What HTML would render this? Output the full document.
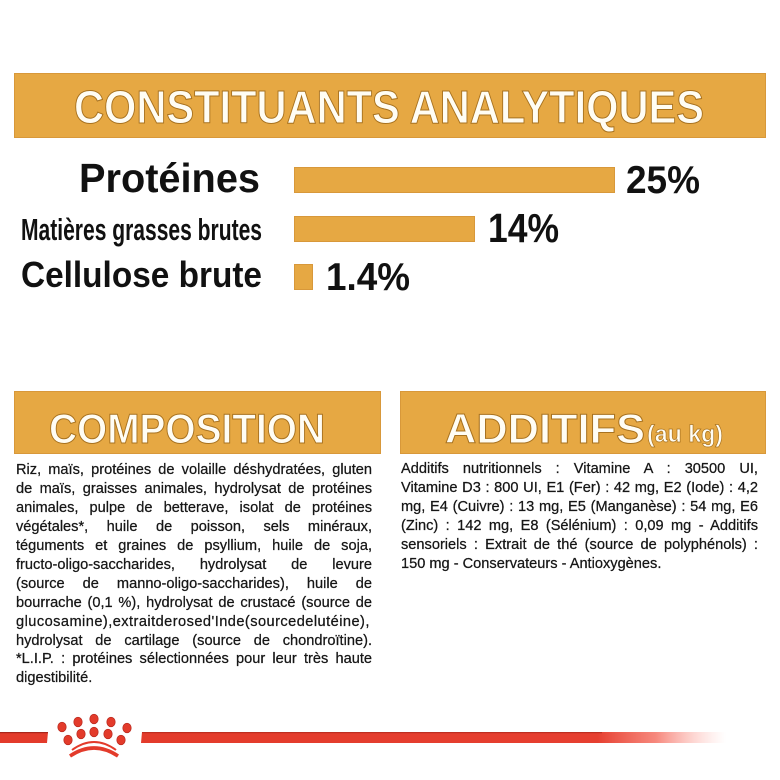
<!DOCTYPE html>
<html>
<head>
<meta charset="utf-8">
<style>
html,body{margin:0;padding:0;background:#fff;}
body{width:780px;height:780px;position:relative;overflow:hidden;font-family:"Liberation Sans",Arial,sans-serif;}
svg.bg{position:absolute;left:0;top:0;}
.para{position:absolute;font-size:14.6px;line-height:18.9px;color:#161616;-webkit-text-stroke:0.25px #161616;}
.para div{text-align:justify;text-align-last:justify;white-space:normal;}
.para div.last{text-align-last:left;}
</style>
</head>
<body>
<svg class="bg" width="780" height="780" viewBox="0 0 780 780" xmlns="http://www.w3.org/2000/svg">
  <defs>
    <linearGradient id="fade" x1="0" y1="0" x2="1" y2="0">
      <stop offset="0" stop-color="#e33b2b"/>
      <stop offset="0.78" stop-color="#e63f30"/>
      <stop offset="0.88" stop-color="#f46a5c" stop-opacity="0.8"/>
      <stop offset="1" stop-color="#ffb0a8" stop-opacity="0"/>
    </linearGradient>
  </defs>
  <!-- header bar -->
  <rect x="14.5" y="73.5" width="751" height="64" fill="#e6a843" stroke="#d8983a" stroke-width="1"/>
  <text x="74" y="123" textLength="630" lengthAdjust="spacingAndGlyphs" font-family="Liberation Sans, Arial, sans-serif" font-size="46" font-weight="bold" fill="#fffdf4" stroke="#a8721f" stroke-width="1">CONSTITUANTS ANALYTIQUES</text>

  <!-- labels -->
  <text x="79" y="192" textLength="181" lengthAdjust="spacingAndGlyphs" font-family="Liberation Sans, Arial, sans-serif" font-size="41" font-weight="bold" fill="#111">Protéines</text>
  <text x="21" y="240" textLength="241" lengthAdjust="spacingAndGlyphs" font-family="Liberation Sans, Arial, sans-serif" font-size="31" font-weight="bold" fill="#111">Matières grasses brutes</text>
  <text x="21" y="287" textLength="241" lengthAdjust="spacingAndGlyphs" font-family="Liberation Sans, Arial, sans-serif" font-size="36" font-weight="bold" fill="#111">Cellulose brute</text>

  <!-- bars -->
  <rect x="294.5" y="167.5" width="320" height="25" fill="#e6a843" stroke="#d8983a" stroke-width="1"/>
  <rect x="294.5" y="216.5" width="180" height="25" fill="#e6a843" stroke="#d8983a" stroke-width="1"/>
  <rect x="294.5" y="264.5" width="18" height="25" fill="#e6a843" stroke="#d8983a" stroke-width="1"/>

  <!-- values -->
  <text x="626" y="193" textLength="74" lengthAdjust="spacingAndGlyphs" font-family="Liberation Sans, Arial, sans-serif" font-size="39" font-weight="bold" fill="#111">25%</text>
  <text x="488" y="242" textLength="71" lengthAdjust="spacingAndGlyphs" font-family="Liberation Sans, Arial, sans-serif" font-size="41" font-weight="bold" fill="#111">14%</text>
  <text x="326" y="290" textLength="84" lengthAdjust="spacingAndGlyphs" font-family="Liberation Sans, Arial, sans-serif" font-size="39" font-weight="bold" fill="#111">1.4%</text>

  <!-- composition header -->
  <rect x="14.5" y="391.5" width="366" height="62" fill="#e6a843" stroke="#d8983a" stroke-width="1"/>
  <text x="49" y="443" textLength="276" lengthAdjust="spacingAndGlyphs" font-family="Liberation Sans, Arial, sans-serif" font-size="42" font-weight="bold" fill="#fffdf4" stroke="#a8721f" stroke-width="1">COMPOSITION</text>

  <!-- additifs header -->
  <rect x="400.5" y="391.5" width="365" height="62" fill="#e6a843" stroke="#d8983a" stroke-width="1"/>
  <text x="445" y="443" textLength="200" lengthAdjust="spacingAndGlyphs" font-family="Liberation Sans, Arial, sans-serif" font-size="42" font-weight="bold" fill="#fffdf4" stroke="#a8721f" stroke-width="1">ADDITIFS</text>
  <text x="647" y="442" textLength="76" lengthAdjust="spacingAndGlyphs" font-family="Liberation Sans, Arial, sans-serif" font-size="24" font-weight="bold" fill="#fffdf4" stroke="#a8721f" stroke-width="0.7">(au kg)</text>

  <!-- red line -->
  <path d="M0 732 L48 732 L47 743 L0 743 Z" fill="#e33b2b"/>
  <rect x="0" y="732" width="48" height="1.2" fill="#a9261b"/>
  <path d="M142 732 L726 732 L726 743 L141 743 Z" fill="url(#fade)"/>
  <rect x="142" y="732" width="460" height="1.2" fill="#b42a1e" opacity="0.8"/>

  <!-- crown -->
  <g fill="#e33b2b" stroke="#b8261b" stroke-width="0.7">
    <ellipse cx="62" cy="727" rx="4.2" ry="4.8"/>
    <ellipse cx="78" cy="722" rx="4.2" ry="4.8"/>
    <ellipse cx="94" cy="719" rx="4.2" ry="4.8"/>
    <ellipse cx="111" cy="722" rx="4.2" ry="4.8"/>
    <ellipse cx="127" cy="728" rx="4.2" ry="4.8"/>
    <ellipse cx="68" cy="740" rx="4.2" ry="4.8"/>
    <ellipse cx="81" cy="734" rx="4.2" ry="4.8"/>
    <ellipse cx="94" cy="732" rx="4.2" ry="4.8"/>
    <ellipse cx="108" cy="734" rx="4.2" ry="4.8"/>
    <ellipse cx="121" cy="740" rx="4.2" ry="4.8"/>
  </g>
  <path d="M72 750 Q94 734 116 750" fill="none" stroke="#e33b2b" stroke-width="2"/>
  <path d="M70 756 Q94 740 118 756" fill="none" stroke="#e33b2b" stroke-width="3.6"/>
</svg>

<div class="para" style="left:16px;top:461.4px;width:356px;">
  <div>Riz, maïs, protéines de volaille déshydratées, gluten</div>
  <div>de maïs, graisses animales, hydrolysat de protéines</div>
  <div>animales, pulpe de betterave, isolat de protéines</div>
  <div>végétales*, huile de poisson, sels minéraux,</div>
  <div>téguments et graines de psyllium, huile de soja,</div>
  <div>fructo-oligo-saccharides, hydrolysat de levure</div>
  <div>(source de manno-oligo-saccharides), huile de</div>
  <div>bourrache (0,1 %), hydrolysat de crustacé (source de</div>
  <div style="letter-spacing:0.45px;">glucosamine),extraitderosed'Inde(sourcedelutéine),</div>
  <div>hydrolysat de cartilage (source de chondroïtine).</div>
  <div>*L.I.P. : protéines sélectionnées pour leur très haute</div>
  <div class="last">digestibilité.</div>
</div>

<div class="para" style="left:401px;top:460.4px;width:357px;">
  <div>Additifs nutritionnels : Vitamine A : 30500 UI,</div>
  <div>Vitamine D3 : 800 UI, E1 (Fer) : 42 mg, E2 (Iode) : 4,2</div>
  <div>mg, E4 (Cuivre) : 13 mg, E5 (Manganèse) : 54 mg, E6</div>
  <div>(Zinc) : 142 mg, E8 (Sélénium) : 0,09 mg - Additifs</div>
  <div>sensoriels : Extrait de thé (source de polyphénols) :</div>
  <div class="last">150 mg - Conservateurs - Antioxygènes.</div>
</div>
</body>
</html>
